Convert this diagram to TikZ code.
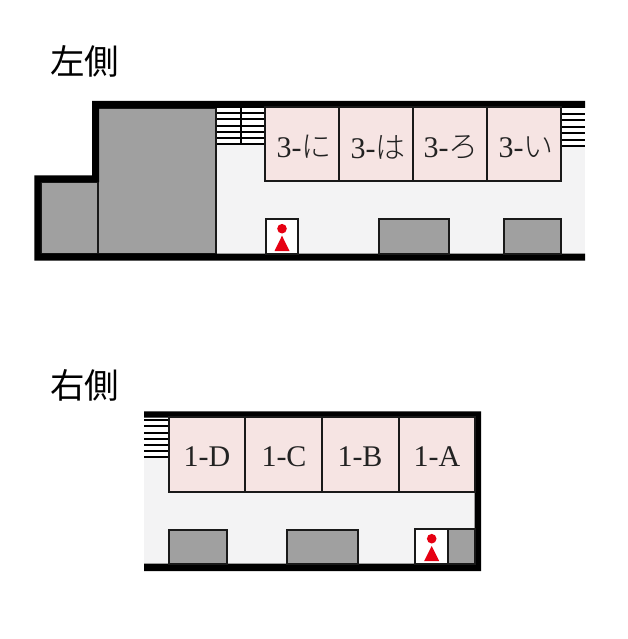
\documentclass[tikz,border=0pt]{standalone}
\usepackage{fontspec}
\setmainfont{Liberation Serif}
\newfontfamily\cjk{Noto Sans CJK JP}
\newfontfamily\cjklight{Noto Sans CJK JP}[UprightFont={* Light}]
\definecolor{floorc}{HTML}{F3F3F4}
\definecolor{shopc}{HTML}{F6E4E3}
\definecolor{grayc}{HTML}{A0A0A0}
\definecolor{wcred}{HTML}{E60012}
\definecolor{labelc}{HTML}{222222}
\tikzset{
  x=1pt,y=-1pt,
  wall/.style={fill=black,draw=none},
  floorarea/.style={fill=floorc,draw=none},
  shop/.style={fill=shopc,draw=black!90,line width=2pt},
  graybox/.style={fill=grayc,draw=black!90,line width=2pt},
  wcbox/.style={fill=white,draw=black!90,line width=2pt},
  tread/.style={draw=black,line width=2pt},
  wcicon/.style={fill=wcred,draw=none},
  shoplabel/.style={font=\fontsize{30}{30}\selectfont,text=labelc,inner sep=0pt,anchor=center},
  heading/.style={font=\cjk\fontsize{34.5}{34.5}\selectfont,text=black,inner sep=0pt,anchor=west}
}
\begin{document}
\begin{tikzpicture}
\useasboundingbox (0,0) rectangle (627,639);
\fill[white] (0,0) rectangle (627,639);
\node[heading] (hl) at (50,61) {左側};
\node[heading] (hr) at (50,385) {右側};

% ---------- left plan
\fill[floorarea] (216,108) rectangle (585,254);
% stairs
\fill[white] (216,108) rectangle (265,145);
\fill[white] (561,108) rectangle (585,146);
\foreach \y in {113,119.3,125.7,132,138.3,144.5}{
  \draw[tread] (216,\y) -- (265,\y);
}
\draw[tread] (240.5,108) -- (240.5,145);
\foreach \y in {114,120.3,126.7,133,140,146.5}{
  \draw[tread] (561,\y) -- (585,\y);
}
\draw[graybox] (40.5,182) rectangle (98,254);
\draw[graybox] (98,108) rectangle (215.5,254);
\fill[wall] (34.3,260.5) -- (34.3,175.3) -- (92,175.3) -- (92,101) -- (585,101) -- (585,108) -- (99,108) -- (99,182) -- (40.5,182) -- (40.5,253.5) -- (585,253.5) -- (585,260.5) -- cycle;
% shops
\draw[shop] (265.3,107.5) rectangle (339.3,181);
\draw[shop] (339.3,107.5) rectangle (413.3,181);
\draw[shop] (413.3,107.5) rectangle (487.3,181);
\draw[shop] (487.3,107.5) rectangle (561,181);
\node[shoplabel] (s3ni) at (304,147) {3-{\cjklight に}};
\node[shoplabel] (s3ha) at (378,147) {3-{\cjklight は}};
\node[shoplabel] (s3ro) at (451,147) {3-{\cjklight ろ}};
\node[shoplabel] (s3i) at (526,147) {3-{\cjklight い}};
% fixtures
\draw[wcbox] (265.5,219.3) rectangle (298,254);
\fill[wcicon] (282,228.7) circle (4.8);
\fill[wcicon] (282,235.7) -- (289.5,251) -- (274.5,251) -- cycle;
\draw[graybox] (379.3,219.3) rectangle (448.7,254);
\draw[graybox] (504,219.3) rectangle (560.7,254);

% ---------- right plan
\fill[floorarea] (144,417) rectangle (475,564);
% stairs
\fill[white] (144,417.5) rectangle (169,457);
\foreach \y in {420,426,432.5,439,445,451,457}{
  \draw[tread] (144,\y) -- (169,\y);
}
\fill[wall] (144,411.3) -- (481,411.3) -- (481,571) -- (144,571) -- (144,563.5) -- (474.7,563.5) -- (474.7,417.5) -- (144,417.5) -- cycle;
% shops
\draw[shop] (169,417) rectangle (245.3,492);
\draw[shop] (245.3,417) rectangle (321.7,492);
\draw[shop] (321.7,417) rectangle (398.7,492);
\draw[shop] (398.7,417) rectangle (474.7,492);
\node[shoplabel] (s1d) at (207,456.5) {1-D};
\node[shoplabel] (s1c) at (284,456.5) {1-C};
\node[shoplabel] (s1b) at (360,456.5) {1-B};
\node[shoplabel] (s1a) at (437,456.5) {1-A};
% fixtures
\draw[graybox] (169,530) rectangle (226.7,564);
\draw[graybox] (287.3,530) rectangle (357.7,564);
\draw[wcbox] (414.7,529.3) rectangle (448,564);
\draw[graybox] (448,529.3) rectangle (474.7,564);
\fill[wcicon] (431.7,538.7) circle (4.8);
\fill[wcicon] (431.7,546) -- (439.2,561) -- (424.2,561) -- cycle;
\end{tikzpicture}
\end{document}
